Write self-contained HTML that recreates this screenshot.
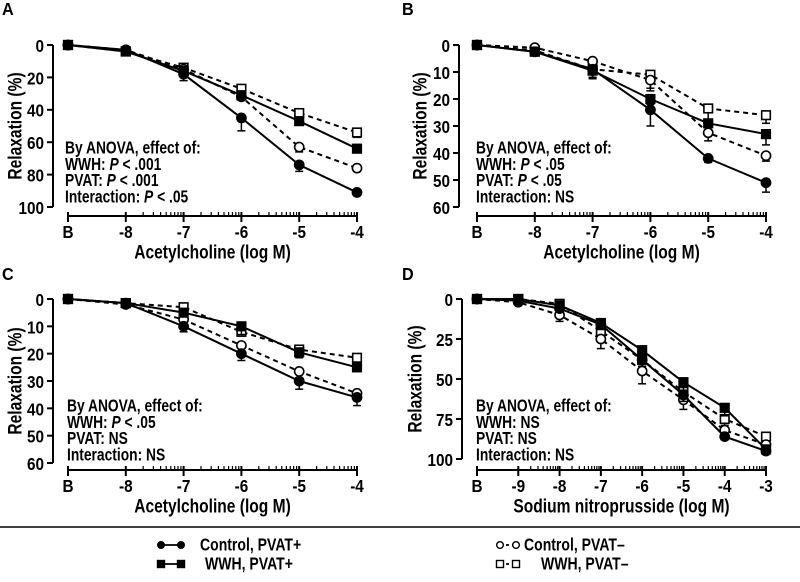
<!DOCTYPE html>
<html><head><meta charset="utf-8"><style>
body{margin:0;background:#fff}
svg{display:block;font-family:"Liberation Sans",Arial,sans-serif;font-weight:bold}
</style></head><body>
<svg id="fig" width="800" height="582" viewBox="0 0 800 582"></svg>
<script>
// Panel A
const catsA = ['B','-8','-7','-6','-5','-4'];
const cpPlusA = [0,3,18,45,74,91];
const wpPlusA = [0,4,16,31,47,64];
const cpMinA = [0,3,15,32,63,76];
const wpMinA = [0,4,14,27,42,54];
const cpPlusErrA=[0,1,4,8,4,2];
const wpPlusErrA=[0,1,2,3,2,2];
const cpMinErrA=[0,1,2,2,3,2];
const wpMinErrA=[0,1,2,2,2,3];
const yTicksA=[0,20,40,60,80,100];
// Panel B
const catsB = ['B','-8','-7','-6','-5','-4'];
const cpPlusB=[0,2.5,9,24,42,51];
const wpPlusB=[0,2.5,9.5,20,29,33];
const cpMinB=[0,1,6,13,32.5,41];
const wpMinB=[0,2,9,11,23.5,26];
const cpPlusErrB=[0,0.5,3,6,1.5,3.5];
const wpPlusErrB=[0,0.5,3,2,1.5,4];
const cpMinErrB=[0,0.5,3,3,3,2];
const wpMinErrB=[0,0.5,3,6,4,3];
const yTicksB=[0,10,20,30,40,50,60];
// Panel C
const catsC = ['B','-8','-7','-6','-5','-4'];
const cpPlusC=[0,1.5,10,20,30,36];
const wpPlusC=[0,1.5,5,10,19.5,25];
const cpMinC=[0,2,7.5,17,26.5,34.5];
const wpMinC=[0,1.5,3,12,18.5,21.5];
const cpPlusErrC=[0,0.5,2,2.5,3,3];
const wpPlusErrC=[0,0.5,1,3,2,1.5];
const cpMinErrC=[0,0.5,1,1,1,2];
const wpMinErrC=[0,0.5,1,1.5,1.5,2.5];
const yTicksC=[0,10,20,30,40,50,60];
// Panel D
const catsD = ['B','-9','-8','-7','-6','-5','-4','-3'];
const cpPlusD=[0,1,6,16,38,60,86,95];
const wpPlusD=[0,0,4,15,32,52,68,94];
const cpMinD=[0,2,10,25,45,63,82,91];
const wpMinD=[0,0,3,20,38,58,75,86];
const cpPlusErrD=[0,1,2,3,4,4,2,1];
const wpPlusErrD=[0,1,2,4,5,5,5,2];
const cpMinErrD=[0,1,4,6,8,6,4,2];
const wpMinErrD=[0,1,2,3,4,4,4,2];
const yTicksD=[0,25,50,75,100];

const svg=document.getElementById('fig');
const NS='http://www.w3.org/2000/svg';
function mk(tag,attrs,parent){const e=document.createElementNS(NS,tag);for(const k in attrs)e.setAttribute(k,attrs[k]);(parent||svg).appendChild(e);return e;}
function txt(x,y,s,size,anchor,parent,name,sx,rot){
  const t=mk('text',{x:0,y:0,'font-size':size,'text-anchor':anchor||'start','dominant-baseline':'central',
    transform:'translate('+x+','+y+')'+(rot?' rotate(-90)':'')+' scale('+(sx||0.8)+',1)'},parent);
  
  
  t.textContent=s;return t;
}

function panel(cfg){
  const g=mk('g',{});
  
  
  const n=cfg.cats.length;
  const xs=i=>cfg.xB+(cfg.xL-cfg.xB)*i/(n-1);
  const ymax=cfg.yTicks[cfg.yTicks.length-1];
  const ys=v=>cfg.y0+(cfg.yMax-cfg.y0)*v/ymax;
  txt(cfg.letterX,cfg.letterY,cfg.letter,18,'start',g,'panel-letter',0.9);
  const ya=mk('line',{x1:cfg.ax,x2:cfg.ax,y1:cfg.y0,y2:cfg.yMax,stroke:'#000','stroke-width':2},g);
  
  cfg.yTicks.forEach(v=>{
    mk('line',{x1:cfg.ax-6,x2:cfg.ax,y1:ys(v),y2:ys(v),stroke:'#000','stroke-width':2},g);
    txt(cfg.ax-9,ys(v)+1,String(v),18,'end',g,'y-tick-label',0.85);
  });
  const xa=mk('line',{x1:cfg.xB-1,x2:cfg.xL+1,y1:cfg.axY,y2:cfg.axY,stroke:'#000','stroke-width':2},g);
  
  for(let i=0;i<n;i++){
    mk('line',{x1:xs(i),x2:xs(i),y1:cfg.axY-4,y2:cfg.axY+6,stroke:'#000','stroke-width':2},g);
    txt(xs(i),cfg.axY+16,cfg.cats[i],18,'middle',g,'x-tick-label',0.85);
    if(i>=1&&i<n-1){
      for(let k=2;k<=9;k++){const mx=xs(i)+(xs(i+1)-xs(i))*Math.log10(k);
        mk('line',{x1:mx,x2:mx,y1:cfg.axY-4,y2:cfg.axY,stroke:'#000','stroke-width':1.2},g);}
    }
  }
  txt((cfg.xB+cfg.xL)/2,cfg.axY+36,cfg.xTitle,19,'middle',g,'x-axis-title',0.82);
  txt(cfg.yTitleX,(cfg.y0+cfg.yMax)/2,'Relaxation (%)',19,'middle',g,'y-axis-title',0.82,true);
  const series=[
    {d:cfg.wpMin,e:cfg.wpMinErr,dash:'5,4',sym:'sq',fill:'#fff',name:'wwh-pvat-minus'},
    {d:cfg.cpMin,e:cfg.cpMinErr,dash:'5,4',sym:'c',fill:'#fff',name:'control-pvat-minus'},
    {d:cfg.wpPlus,e:cfg.wpPlusErr,dash:'',sym:'sq',fill:'#000',name:'wwh-pvat-plus'},
    {d:cfg.cpPlus,e:cfg.cpPlusErr,dash:'',sym:'c',fill:'#000',name:'control-pvat-plus'}];
  series.forEach(s=>{
    const sg=mk('g',{},g);
    
    
    const pts=s.d.map((v,i)=>xs(i)+','+ys(v)).join(' ');
    const pl=mk('polyline',{points:pts,fill:'none',stroke:'#000','stroke-width':2,'stroke-dasharray':s.dash},sg);
    
    s.d.forEach((v,i)=>{
      const x=xs(i),y=ys(v),e=s.e[i];
      if(e>0.6){
        const yb=ys(v+e);
        mk('line',{x1:x,x2:x,y1:y,y2:yb,stroke:'#000','stroke-width':1.5},sg);
        mk('line',{x1:x-4,x2:x+4,y1:yb,y2:yb,stroke:'#000','stroke-width':1.5},sg);
      }
      let m;
      if(s.sym==='c')m=mk('circle',{cx:x,cy:y,r:4.6,fill:s.fill,stroke:'#000','stroke-width':1.6},sg);
      else m=mk('rect',{x:x-4.3,y:y-4.3,width:8.6,height:8.6,fill:s.fill,stroke:'#000','stroke-width':1.6},sg);
      
      
    });
  });
  cfg.notes.forEach((ln,i)=>{
    const t=mk('text',{x:0,y:0,'font-size':17.5,'dominant-baseline':'central',
      transform:'translate('+cfg.noteX+','+(cfg.noteY+i*16.3)+') scale(0.79,1)'},g);
    
    
    ln.forEach(p=>{const ts=mk('tspan',{},t);if(p[1])ts.setAttribute('font-style','italic');ts.textContent=p[0];});
  });
}

panel({letter:'A',letterX:2,letterY:9,cats:catsA,cpPlus:cpPlusA,wpPlus:wpPlusA,cpMin:cpMinA,wpMin:wpMinA,
  cpPlusErr:cpPlusErrA,wpPlusErr:wpPlusErrA,cpMinErr:cpMinErrA,wpMinErr:wpMinErrA,yTicks:yTicksA,
  ax:53,y0:45,yMax:207,axY:216,xB:68,xL:357,xTitle:'Acetylcholine (log M)',yTitleX:15,
  noteX:65,noteY:148,notes:[[['By ANOVA, effect of:']],[['WWH: '],['P',1],[' < .001']],[['PVAT: '],['P',1],[' < .001']],[['Interaction: '],['P',1],[' < .05']]]});
panel({letter:'B',letterX:402,letterY:9,cats:catsB,cpPlus:cpPlusB,wpPlus:wpPlusB,cpMin:cpMinB,wpMin:wpMinB,
  cpPlusErr:cpPlusErrB,wpPlusErr:wpPlusErrB,cpMinErr:cpMinErrB,wpMinErr:wpMinErrB,yTicks:yTicksB,
  ax:459,y0:45,yMax:207,axY:216,xB:477,xL:766,xTitle:'Acetylcholine (log M)',yTitleX:420,
  noteX:476,noteY:148,notes:[[['By ANOVA, effect of:']],[['WWH: '],['P',1],[' < .05']],[['PVAT: '],['P',1],[' < .05']],[['Interaction: NS']]]});
panel({letter:'C',letterX:2,letterY:274,cats:catsC,cpPlus:cpPlusC,wpPlus:wpPlusC,cpMin:cpMinC,wpMin:wpMinC,
  cpPlusErr:cpPlusErrC,wpPlusErr:wpPlusErrC,cpMinErr:cpMinErrC,wpMinErr:wpMinErrC,yTicks:yTicksC,
  ax:53,y0:299,yMax:463,axY:470,xB:68,xL:357,xTitle:'Acetylcholine (log M)',yTitleX:15,
  noteX:67,noteY:406,notes:[[['By ANOVA, effect of:']],[['WWH: '],['P',1],[' < .05']],[['PVAT: NS']],[['Interaction: NS']]]});
panel({letter:'D',letterX:402,letterY:274,cats:catsD,cpPlus:cpPlusD,wpPlus:wpPlusD,cpMin:cpMinD,wpMin:wpMinD,
  cpPlusErr:cpPlusErrD,wpPlusErr:wpPlusErrD,cpMinErr:cpMinErrD,wpMinErr:wpMinErrD,yTicks:yTicksD,
  ax:462,y0:299,yMax:459,axY:470,xB:477,xL:766,xTitle:'Sodium nitroprusside (log M)',yTitleX:415,
  noteX:476,noteY:406,notes:[[['By ANOVA, effect of:']],[['WWH: NS']],[['PVAT: NS']],[['Interaction: NS']]]});

const dv=mk('line',{x1:0,x2:800,y1:527,y2:527,stroke:'#000','stroke-width':1.5});

const lg=mk('g',{});


const legendItems=[
  {x:161,x2:181,y:545,sym:'c',fill:'#000',dash:'',label:'Control, PVAT+',tx:200},
  {x:161,x2:181,y:564,sym:'sq',fill:'#000',dash:'',label:'WWH, PVAT+',tx:205},
  {x:500,x2:516,y:545,sym:'c',fill:'#fff',dash:'3,3',label:'Control, PVAT\u2013',tx:524},
  {x:500,x2:516,y:564,sym:'sq',fill:'#fff',dash:'3,3',label:'WWH, PVAT\u2013',tx:541}];
legendItems.forEach(it=>{
  const eg=mk('g',{},lg);
  
  
  mk('line',{x1:it.x,x2:it.x2,y1:it.y,y2:it.y,stroke:'#000','stroke-width':1.8,'stroke-dasharray':it.dash},eg);
  [it.x,it.x2].forEach(px=>{
    if(it.sym==='c')mk('circle',{cx:px,cy:it.y,r:3.3,fill:it.fill,stroke:'#000','stroke-width':1.4},eg);
    else mk('rect',{x:px-3.5,y:it.y-3.5,width:7,height:7,fill:it.fill,stroke:'#000','stroke-width':1.4},eg);
  });
  txt(it.tx,it.y,it.label,18,'start',eg,'legend-label',0.78);
});
</script>
</body></html>
